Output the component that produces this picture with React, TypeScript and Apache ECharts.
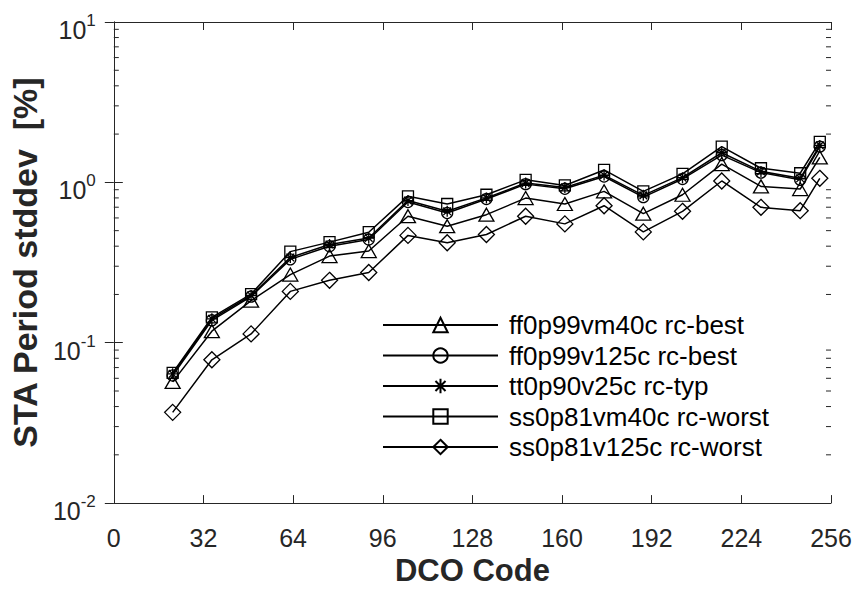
import React, { useEffect, useRef } from "react";
import * as echarts from "echarts";

const codes = [21, 35, 49, 63, 77, 91, 105, 119, 133, 147, 161, 175, 189, 203, 217, 231, 245, 252];
const ffVm40 = [0.057, 0.118, 0.183, 0.266, 0.347, 0.373, 0.615, 0.533, 0.629, 0.798, 0.733, 0.879, 0.638, 0.837, 1.3, 0.944, 0.908, 1.43];
const ffV125 = [0.0625, 0.138, 0.194, 0.331, 0.4, 0.44, 0.754, 0.644, 0.787, 0.975, 0.912, 1.088, 0.809, 1.05, 1.48, 1.15, 1.037, 1.67];
const ttV25 = [0.064, 0.141, 0.197, 0.34, 0.41, 0.45, 0.77, 0.66, 0.8, 0.99, 0.93, 1.11, 0.83, 1.07, 1.53, 1.17, 1.06, 1.7];
const ssVm40 = [0.0648, 0.144, 0.201, 0.37, 0.424, 0.489, 0.818, 0.733, 0.837, 1.037, 0.957, 1.195, 0.879, 1.13, 1.67, 1.225, 1.14, 1.79];
const ssV125 = [0.0368, 0.0783, 0.1135, 0.209, 0.245, 0.274, 0.467, 0.42, 0.473, 0.615, 0.551, 0.715, 0.491, 0.66, 1.02, 0.699, 0.666, 1.06];

const seriesNames = [
  "ff0p99vm40c rc-best",
  "ff0p99v125c rc-best",
  "tt0p90v25c rc-typ",
  "ss0p81vm40c rc-worst",
  "ss0p81v125c rc-worst",
];

const xTickStep = 32;
const minorTickValues = [
  0.02, 0.03, 0.04, 0.05, 0.06, 0.07, 0.08, 0.09,
  0.2, 0.3, 0.4, 0.5, 0.6, 0.7, 0.8, 0.9,
  2, 3, 4, 5, 6, 7, 8, 9,
];

const FONT = "'Liberation Sans', Arial, sans-serif";
const STAR = "path://M5 0L5 10M0 5L10 5M1.5 1.5L8.5 8.5M1.5 8.5L8.5 1.5";

export default function App() {
  const ref = useRef<HTMLDivElement>(null);
  useEffect(() => {
    if (!ref.current) return;
    const chart = echarts.init(ref.current, null, { renderer: "svg" });
    const values = [ffVm40, ffV125, ttV25, ssVm40, ssV125];
    const symbols: any[] = ["triangle", "circle", STAR, "rect", "diamond"];
    const sizes: any[] = [[15, 13], 11, 11, 11, 16];
    const lineSeries = values.map((arr, i) => ({
      name: seriesNames[i],
      type: "line",
      xAxisIndex: 0,
      yAxisIndex: 0,
      data: codes.map((c, j) => [c, arr[j]]),
      symbol: symbols[i],
      symbolSize: sizes[i],
      showAllSymbol: true,
      lineStyle: { color: "#000", width: 1.5 },
      itemStyle: { color: "transparent", borderColor: "#000", borderWidth: 1.3 },
      emphasis: { disabled: true },
      z: 3,
    }));
    const minorSeries = {
      type: "custom",
      name: "minor",
      xAxisIndex: 0,
      yAxisIndex: 0,
      silent: true,
      clip: false,
      data: minorTickValues.map((v) => [0, v]),
      renderItem: (params: any, api: any) => {
        const cs = params.coordSys;
        const y = api.coord([0, api.value(1)])[1];
        const style = { stroke: "#262626", lineWidth: 1 };
        return {
          type: "group",
          children: [
            { type: "line", shape: { x1: cs.x, y1: y, x2: cs.x + 5, y2: y }, style },
            { type: "line", shape: { x1: cs.x + cs.width - 5, y1: y, x2: cs.x + cs.width, y2: y }, style },
          ],
        };
      },
    };
    const axisLineStyle = { lineStyle: { color: "#262626", width: 1 } };
    const option: any = {
      animation: false,
      backgroundColor: "#fff",
      grid: { left: 113, right: 25, top: 22, bottom: 84, containLabel: false },
      legend: {
        data: seriesNames,
        orient: "vertical",
        left: 382,
        top: 312,
        padding: 0,
        itemWidth: 115,
        itemHeight: 18,
        itemGap: 4.5,
        textStyle: { fontFamily: FONT, fontSize: 26, color: "#000", padding: [0, 0, 0, 6] },
        selectedMode: false,
      },
      xAxis: [
        {
          type: "value",
          min: 0,
          max: 256,
          interval: xTickStep,
          position: "bottom",
          name: "DCO Code",
          nameLocation: "middle",
          nameGap: 50,
          nameTextStyle: { fontFamily: FONT, fontSize: 31, fontWeight: "bold", color: "#262626" },
          axisLine: axisLineStyle,
          axisTick: { inside: true, length: 8, lineStyle: { color: "#262626" } },
          axisLabel: { fontFamily: FONT, fontSize: 25, color: "#262626", margin: 22 },
          splitLine: { show: false },
        },
        {
          type: "value",
          min: 0,
          max: 256,
          interval: xTickStep,
          position: "top",
          axisLine: axisLineStyle,
          axisTick: { inside: true, length: 8, lineStyle: { color: "#262626" } },
          axisLabel: { show: false },
          splitLine: { show: false },
        },
      ],
      yAxis: [
        {
          type: "log",
          logBase: 10,
          min: 0.01,
          max: 10,
          position: "left",
          name: "STA Period stddev  [%]",
          nameLocation: "middle",
          nameGap: 64,
          nameTextStyle: { fontFamily: FONT, fontSize: 34, fontWeight: "bold", color: "#262626" },
          axisLine: axisLineStyle,
          axisTick: { inside: true, length: 9, lineStyle: { color: "#262626" } },
          axisLabel: {
            margin: 18,
            padding: [16, 0, 0, 0],
            formatter: (v: number) => `{b|10}{s|${Math.round(Math.log10(v))}}`,
            rich: {
              b: { fontFamily: FONT, fontSize: 25, color: "#262626", lineHeight: 36 },
              s: { fontFamily: FONT, fontSize: 17, color: "#262626", lineHeight: 17, verticalAlign: "top" },
            },
          },
          splitLine: { show: false },
          minorTick: { show: false },
        },
        {
          type: "log",
          logBase: 10,
          min: 0.01,
          max: 10,
          position: "right",
          axisLine: axisLineStyle,
          axisTick: { inside: true, length: 9, lineStyle: { color: "#262626" } },
          axisLabel: { show: false },
          splitLine: { show: false },
        },
      ],
      series: [...lineSeries, minorSeries],
    };
    chart.setOption(option);
    return () => chart.dispose();
  }, []);
  return (
    <div
      ref={ref}
      style={{ position: "fixed", left: 0, top: 0, width: 856, height: 591, background: "#fff" }}
    />
  );
}
